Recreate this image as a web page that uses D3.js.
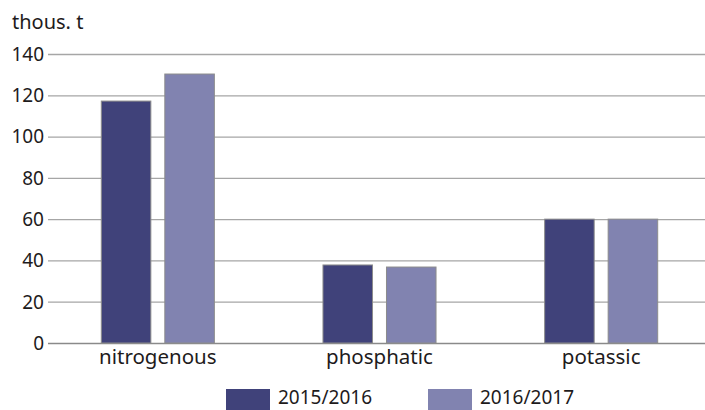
<!DOCTYPE html>
<html><head><meta charset="utf-8">
<script src="https://cdn.jsdelivr.net/npm/d3@7"></script>
<style>body{margin:0;background:#fff}svg{display:block}text{font-family:"Noto Sans",sans-serif;fill:#1e1b1c}</style>
</head><body><svg id="c" width="705" height="410"></svg>
<script>
const categories = ["nitrogenous","phosphatic","potassic"];
const seriesNames = ["2015/2016","2016/2017"];
const values2015 = [117.2, 37.8, 60.0];
const values2016 = [130.3, 36.8, 60.0];
const yTicks = [0,20,40,60,80,100,120,140];
const colors = ["#40427a","#8183b0"];

const svg = d3.select("#c");
const y = d3.scaleLinear().domain([0,140]).range([343,54]);
const x0 = d3.scaleBand().domain(categories).range([47,712]).paddingInner(0.49).paddingOuter(0.245);
const x1 = d3.scaleBand().domain(seriesNames).range([0,x0.bandwidth()]).paddingInner(0.22);

// grid
svg.append("g").selectAll("line").data(yTicks).join("line")
  .attr("x1",48).attr("x2",705).attr("y1",d=>y(d)+0.5).attr("y2",d=>y(d)+0.5)
  .attr("stroke",d=>d===0?"#8a8a8a":"#a6a6a6").attr("stroke-width",d=>d===0?1.6:1.3);
// y labels
svg.append("g").selectAll("text").data(yTicks).join("text")
  .attr("x",44).attr("y",d=>y(d)).attr("dy","0.36em").attr("text-anchor","end")
  .attr("font-size",19).text(d=>d);
svg.append("text").attr("x",12).attr("y",29).attr("font-size",20).text("thous. t");

// bars
const data = categories.map((c,i)=>({c, vals:[values2015[i],values2016[i]]}));
const g = svg.append("g").selectAll("g").data(data).join("g")
  .attr("transform",d=>`translate(${x0(d.c)},0)`);
g.selectAll("rect").data(d=>d.vals.map((v,j)=>({s:seriesNames[j],v,j}))).join("rect")
  .attr("x",d=>x1(d.s)).attr("width",x1.bandwidth())
  .attr("y",d=>y(d.v)).attr("height",d=>y(0)-y(d.v))
  .attr("fill",d=>colors[d.j]).attr("stroke","#8c8c8c").attr("stroke-width",1);

// x labels
svg.append("g").selectAll("text").data(categories).join("text")
  .attr("x",d=>x0(d)+x0.bandwidth()/2).attr("y",364).attr("text-anchor","middle")
  .attr("font-size",20.5).text(d=>d);

// legend
const legX = [226,428];
const lg = svg.append("g").selectAll("g").data(seriesNames).join("g")
  .attr("transform",(d,i)=>`translate(${legX[i]},389)`);
lg.append("rect").attr("width",44).attr("height",21).attr("fill",(d,i)=>colors[i]);
lg.append("text").attr("x",52).attr("y",15).attr("font-size",19).text(d=>d);
</script></body></html>
